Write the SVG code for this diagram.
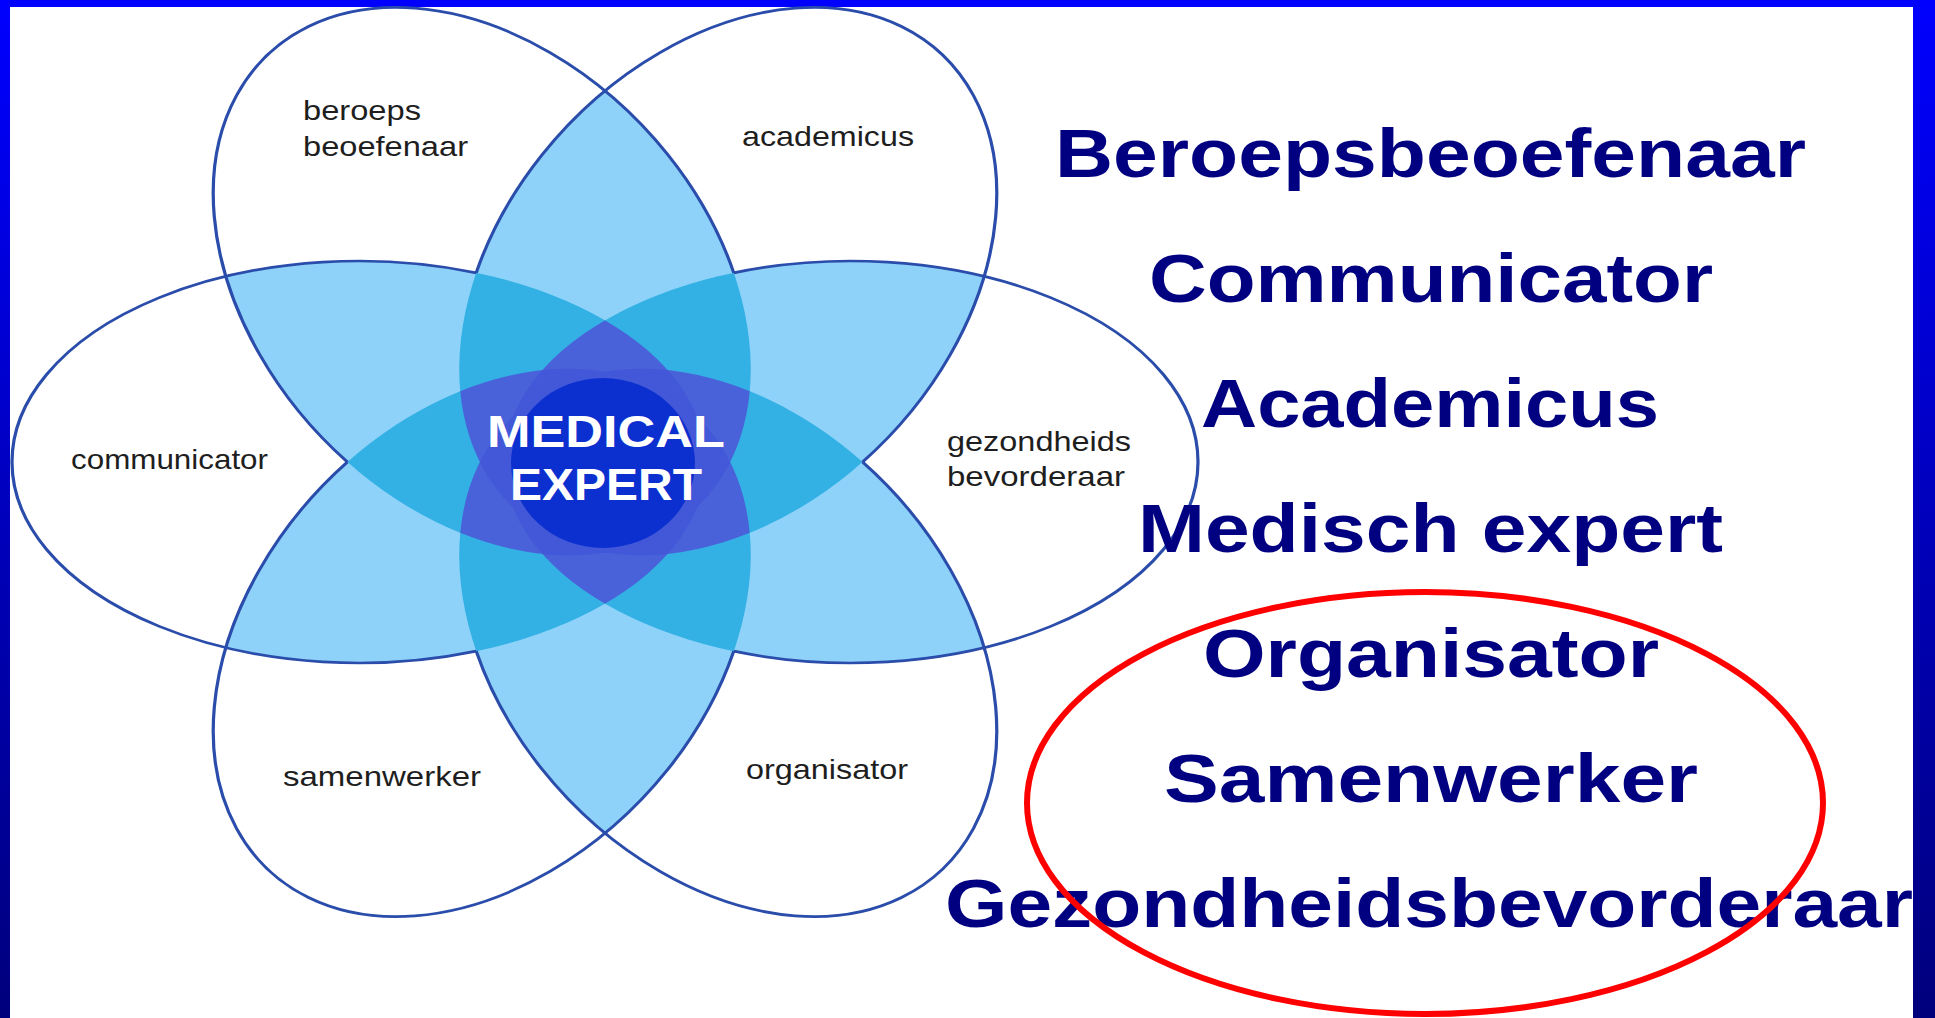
<svg xmlns="http://www.w3.org/2000/svg" xmlns:xlink="http://www.w3.org/1999/xlink" width="1935" height="1018" viewBox="0 0 1935 1018">
<style>
.lbl{font-family:"Liberation Sans",Arial,sans-serif;font-size:28px;fill:#1e1e1e}
.role{font-family:"Liberation Sans",Arial,sans-serif;font-weight:bold;font-size:68px;fill:#000080}
.me{font-family:"Liberation Sans",Arial,sans-serif;font-weight:bold;font-size:44px;fill:#ffffff}
.ol{fill:none;stroke:#2a4caa;stroke-width:3.2}
</style>
<defs>
<linearGradient id="bg" x1="0" y1="0" x2="0" y2="1"><stop offset="0" stop-color="#0000ff"/><stop offset="1" stop-color="#00007c"/></linearGradient>
<ellipse id="e0" cx="246" cy="0" rx="347" ry="237"/>
<ellipse id="e1" cx="246" cy="0" rx="347" ry="237" transform="rotate(60)"/>
<ellipse id="e2" cx="246" cy="0" rx="347" ry="237" transform="rotate(120)"/>
<ellipse id="e3" cx="246" cy="0" rx="347" ry="237" transform="rotate(180)"/>
<ellipse id="e4" cx="246" cy="0" rx="347" ry="237" transform="rotate(240)"/>
<ellipse id="e5" cx="246" cy="0" rx="347" ry="237" transform="rotate(300)"/>
<clipPath id="c0"><use href="#e0"/></clipPath>
<clipPath id="c1"><use href="#e1"/></clipPath>
<clipPath id="c2"><use href="#e2"/></clipPath>
<clipPath id="c3"><use href="#e3"/></clipPath>
<clipPath id="c4"><use href="#e4"/></clipPath>
<clipPath id="c5"><use href="#e5"/></clipPath>
<path id="arc" d="M128.79,-223.07A347,237 0 1 1 128.79,223.07"/>
</defs>
<rect x="0" y="0" width="1935" height="1018" fill="url(#bg)"/>
<rect x="10" y="7" width="1903" height="1011" fill="#ffffff"/>

<g id="overlaps" transform="translate(605,462) scale(1,0.848)">
<g fill="#8ed2fa">
<g clip-path="url(#c0)"><use href="#e1"/></g>
<g clip-path="url(#c0)"><use href="#e2"/></g>
<g clip-path="url(#c0)"><use href="#e3"/></g>
<g clip-path="url(#c0)"><use href="#e4"/></g>
<g clip-path="url(#c0)"><use href="#e5"/></g>
<g clip-path="url(#c1)"><use href="#e2"/></g>
<g clip-path="url(#c1)"><use href="#e3"/></g>
<g clip-path="url(#c1)"><use href="#e4"/></g>
<g clip-path="url(#c1)"><use href="#e5"/></g>
<g clip-path="url(#c2)"><use href="#e3"/></g>
<g clip-path="url(#c2)"><use href="#e4"/></g>
<g clip-path="url(#c2)"><use href="#e5"/></g>
<g clip-path="url(#c3)"><use href="#e4"/></g>
<g clip-path="url(#c3)"><use href="#e5"/></g>
<g clip-path="url(#c4)"><use href="#e5"/></g>
</g>
<g fill="#33b1e4">
<g clip-path="url(#c0)"><g clip-path="url(#c1)"><use href="#e2"/></g></g>
<g clip-path="url(#c0)"><g clip-path="url(#c1)"><use href="#e3"/></g></g>
<g clip-path="url(#c0)"><g clip-path="url(#c1)"><use href="#e4"/></g></g>
<g clip-path="url(#c0)"><g clip-path="url(#c1)"><use href="#e5"/></g></g>
<g clip-path="url(#c0)"><g clip-path="url(#c2)"><use href="#e3"/></g></g>
<g clip-path="url(#c0)"><g clip-path="url(#c2)"><use href="#e4"/></g></g>
<g clip-path="url(#c0)"><g clip-path="url(#c2)"><use href="#e5"/></g></g>
<g clip-path="url(#c0)"><g clip-path="url(#c3)"><use href="#e4"/></g></g>
<g clip-path="url(#c0)"><g clip-path="url(#c3)"><use href="#e5"/></g></g>
<g clip-path="url(#c0)"><g clip-path="url(#c4)"><use href="#e5"/></g></g>
<g clip-path="url(#c1)"><g clip-path="url(#c2)"><use href="#e3"/></g></g>
<g clip-path="url(#c1)"><g clip-path="url(#c2)"><use href="#e4"/></g></g>
<g clip-path="url(#c1)"><g clip-path="url(#c2)"><use href="#e5"/></g></g>
<g clip-path="url(#c1)"><g clip-path="url(#c3)"><use href="#e4"/></g></g>
<g clip-path="url(#c1)"><g clip-path="url(#c3)"><use href="#e5"/></g></g>
<g clip-path="url(#c1)"><g clip-path="url(#c4)"><use href="#e5"/></g></g>
<g clip-path="url(#c2)"><g clip-path="url(#c3)"><use href="#e4"/></g></g>
<g clip-path="url(#c2)"><g clip-path="url(#c3)"><use href="#e5"/></g></g>
<g clip-path="url(#c2)"><g clip-path="url(#c4)"><use href="#e5"/></g></g>
<g clip-path="url(#c3)"><g clip-path="url(#c4)"><use href="#e5"/></g></g>
</g>
<g fill="#4a62d9">
<g clip-path="url(#c0)"><g clip-path="url(#c1)"><g clip-path="url(#c2)"><use href="#e3"/></g></g></g>
<g clip-path="url(#c0)"><g clip-path="url(#c1)"><g clip-path="url(#c2)"><use href="#e4"/></g></g></g>
<g clip-path="url(#c0)"><g clip-path="url(#c1)"><g clip-path="url(#c2)"><use href="#e5"/></g></g></g>
<g clip-path="url(#c0)"><g clip-path="url(#c1)"><g clip-path="url(#c3)"><use href="#e4"/></g></g></g>
<g clip-path="url(#c0)"><g clip-path="url(#c1)"><g clip-path="url(#c3)"><use href="#e5"/></g></g></g>
<g clip-path="url(#c0)"><g clip-path="url(#c1)"><g clip-path="url(#c4)"><use href="#e5"/></g></g></g>
<g clip-path="url(#c0)"><g clip-path="url(#c2)"><g clip-path="url(#c3)"><use href="#e4"/></g></g></g>
<g clip-path="url(#c0)"><g clip-path="url(#c2)"><g clip-path="url(#c3)"><use href="#e5"/></g></g></g>
<g clip-path="url(#c0)"><g clip-path="url(#c2)"><g clip-path="url(#c4)"><use href="#e5"/></g></g></g>
<g clip-path="url(#c0)"><g clip-path="url(#c3)"><g clip-path="url(#c4)"><use href="#e5"/></g></g></g>
<g clip-path="url(#c1)"><g clip-path="url(#c2)"><g clip-path="url(#c3)"><use href="#e4"/></g></g></g>
<g clip-path="url(#c1)"><g clip-path="url(#c2)"><g clip-path="url(#c3)"><use href="#e5"/></g></g></g>
<g clip-path="url(#c1)"><g clip-path="url(#c2)"><g clip-path="url(#c4)"><use href="#e5"/></g></g></g>
<g clip-path="url(#c1)"><g clip-path="url(#c3)"><g clip-path="url(#c4)"><use href="#e5"/></g></g></g>
<g clip-path="url(#c2)"><g clip-path="url(#c3)"><g clip-path="url(#c4)"><use href="#e5"/></g></g></g>
</g>
<g fill="#4258d8">
<g clip-path="url(#c0)"><g clip-path="url(#c1)"><g clip-path="url(#c2)"><g clip-path="url(#c3)"><use href="#e4"/></g></g></g></g>
<g clip-path="url(#c0)"><g clip-path="url(#c1)"><g clip-path="url(#c2)"><g clip-path="url(#c3)"><use href="#e5"/></g></g></g></g>
<g clip-path="url(#c0)"><g clip-path="url(#c1)"><g clip-path="url(#c2)"><g clip-path="url(#c4)"><use href="#e5"/></g></g></g></g>
<g clip-path="url(#c0)"><g clip-path="url(#c1)"><g clip-path="url(#c3)"><g clip-path="url(#c4)"><use href="#e5"/></g></g></g></g>
<g clip-path="url(#c0)"><g clip-path="url(#c2)"><g clip-path="url(#c3)"><g clip-path="url(#c4)"><use href="#e5"/></g></g></g></g>
<g clip-path="url(#c1)"><g clip-path="url(#c2)"><g clip-path="url(#c3)"><g clip-path="url(#c4)"><use href="#e5"/></g></g></g></g>
</g>
</g>
<ellipse id="center-core" cx="603" cy="463" rx="92" ry="85" fill="#0b30cf"/>

<g id="petal-gezondheidsbevorderaar">
<g transform="translate(605,462) scale(1,0.848)"><use href="#arc" class="ol" vector-effect="non-scaling-stroke" transform="rotate(0)"/></g>
<text class="lbl" x="947" y="451" textLength="184" lengthAdjust="spacingAndGlyphs">gezondheids</text>
<text class="lbl" x="947" y="486" textLength="178" lengthAdjust="spacingAndGlyphs">bevorderaar</text>
</g>
<g id="petal-organisator">
<g transform="translate(605,462) scale(1,0.848)"><use href="#arc" class="ol" vector-effect="non-scaling-stroke" transform="rotate(60)"/></g>
<text class="lbl" x="746" y="779" textLength="162" lengthAdjust="spacingAndGlyphs">organisator</text>
</g>
<g id="petal-samenwerker">
<g transform="translate(605,462) scale(1,0.848)"><use href="#arc" class="ol" vector-effect="non-scaling-stroke" transform="rotate(120)"/></g>
<text class="lbl" x="283" y="786" textLength="198" lengthAdjust="spacingAndGlyphs">samenwerker</text>
</g>
<g id="petal-communicator">
<g transform="translate(605,462) scale(1,0.848)"><use href="#arc" class="ol" vector-effect="non-scaling-stroke" transform="rotate(180)"/></g>
<text class="lbl" x="71" y="469" textLength="197" lengthAdjust="spacingAndGlyphs">communicator</text>
</g>
<g id="petal-beroepsbeoefenaar">
<g transform="translate(605,462) scale(1,0.848)"><use href="#arc" class="ol" vector-effect="non-scaling-stroke" transform="rotate(240)"/></g>
<text class="lbl" x="303" y="120" textLength="118" lengthAdjust="spacingAndGlyphs">beroeps</text>
<text class="lbl" x="303" y="156" textLength="165" lengthAdjust="spacingAndGlyphs">beoefenaar</text>
</g>
<g id="petal-academicus">
<g transform="translate(605,462) scale(1,0.848)"><use href="#arc" class="ol" vector-effect="non-scaling-stroke" transform="rotate(300)"/></g>
<text class="lbl" x="742" y="146" textLength="172" lengthAdjust="spacingAndGlyphs">academicus</text>
</g>
<g id="center-medical-expert">
<text class="me" x="487" y="447" textLength="238" lengthAdjust="spacingAndGlyphs">MEDICAL</text>
<text class="me" x="510" y="500" textLength="192" lengthAdjust="spacingAndGlyphs">EXPERT</text>
</g>

<g id="roles-list">
<text class="role" x="1055" y="177" textLength="751" lengthAdjust="spacingAndGlyphs">Beroepsbeoefenaar</text>
<text class="role" x="1149" y="302" textLength="564" lengthAdjust="spacingAndGlyphs">Communicator</text>
<text class="role" x="1201" y="427" textLength="458" lengthAdjust="spacingAndGlyphs">Academicus</text>
<text class="role" x="1138" y="552" textLength="585" lengthAdjust="spacingAndGlyphs">Medisch expert</text>
<text class="role" x="1203" y="677" textLength="456" lengthAdjust="spacingAndGlyphs">Organisator</text>
<text class="role" x="1164" y="802" textLength="534" lengthAdjust="spacingAndGlyphs">Samenwerker</text>
<text class="role" x="945" y="927" textLength="968" lengthAdjust="spacingAndGlyphs">Gezondheidsbevorderaar</text>
</g>

<g id="highlight">
<ellipse cx="1425" cy="803" rx="398" ry="211" fill="none" stroke="#ff0000" stroke-width="6"/>
</g>
</svg>
